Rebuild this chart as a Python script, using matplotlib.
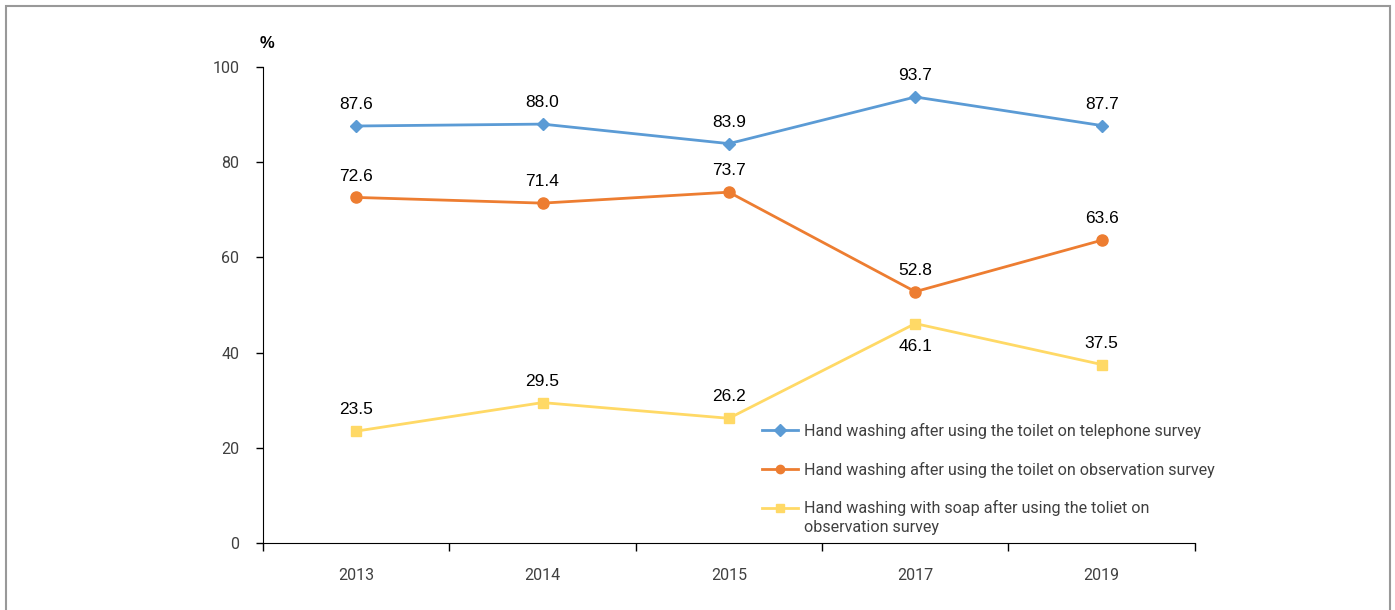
import matplotlib.pyplot as plt
from matplotlib.patches import Rectangle
import numpy as np

# Survey years and hand washing rates (%)
years = ["2013", "2014", "2015", "2017", "2019"]
telephone = [87.6, 88.0, 83.9, 93.7, 87.7]
observation = [72.6, 71.4, 73.7, 52.8, 63.6]
soap = [23.5, 29.5, 26.2, 46.1, 37.5]

series_names = [
    "Hand washing after using the toilet on telephone survey",
    "Hand washing after using the toilet on observation survey",
    "Hand washing with soap after using the toliet on",
]
soap_name_tail = "observation survey"

plt.rcParams['font.family'] = ['Liberation Sans', 'DejaVu Sans']

fig = plt.figure(figsize=(13.95, 6.10), dpi=100)
ax = fig.add_axes([0.1885, 0.1098, 0.668, 0.7804])

x = np.arange(len(years))
ax.plot(x, telephone, color="#5B9BD5", lw=2, marker="D", ms=6, label=series_names[0])
ax.plot(x, observation, color="#ED7D31", lw=2, marker="o", ms=8, label=series_names[1])
ax.plot(x, soap, color="#FFD966", lw=2, marker="s", ms=7, label=series_names[2])

# value labels
def label_points(vals, below=()):
    for i, (xi, v) in enumerate(zip(x, vals)):
        if i in below:
            ax.annotate(f"{v:.1f}", (xi, v), xytext=(0, -11), textcoords="offset points",
                        ha="center", va="top", fontsize=12.5)
        else:
            ax.annotate(f"{v:.1f}", (xi, v), xytext=(0, 10), textcoords="offset points",
                        ha="center", va="bottom", fontsize=12.5)

label_points(telephone)
label_points(observation)
label_points(soap, below=(3,))

ax.set_xlim(-0.5, len(years) - 0.5)
ax.set_ylim(0, 100)
ax.set_yticks(range(0, 101, 20))
ax.set_xticks(x)
ax.set_xticklabels(years)
ax.set_xticks(np.arange(-0.5, len(years)), minor=True)
ax.tick_params(axis="x", which="major", length=0, pad=18, labelsize=11.5, labelcolor="#404040")
ax.tick_params(axis="x", which="minor", length=6, width=1, direction="out")
ax.tick_params(axis="y", length=5, width=1, direction="out", pad=12, labelsize=11.5, labelcolor="#404040")
for lab in ax.get_xticklabels() + ax.get_yticklabels():
    lab.set_family(['Roboto', 'DejaVu Sans'])

ax.spines["top"].set_visible(False)
ax.spines["right"].set_visible(False)

ax.text(0.004, 1.05, "%", transform=ax.transAxes, ha="center", va="center",
        fontsize=12, fontweight="bold")

leg = ax.legend(loc="upper left", bbox_to_anchor=(0.536, 0.252), frameon=False,
                handlelength=2.2, handletextpad=0.35, labelspacing=1.4,
                borderaxespad=0, borderpad=0,
                prop={"family": ['Roboto', 'DejaVu Sans'], "size": 11.6})
for h in leg.legend_handles:
    h.set_markersize(6)
for t in leg.get_texts():
    t.set_color("#404040")

# second line of the wrapped soap label, under the legend text
fig.canvas.draw()
bb = leg.get_texts()[2].get_window_extent()
fig.text(bb.x0, bb.y0 - 4, soap_name_tail, transform=None, ha="left", va="top",
         color="#404040", family=['Roboto', 'DejaVu Sans'], fontsize=11.6)

# outer frame
fig.patches.append(Rectangle((6, -20), 1384, 624, transform=None, fill=False,
                             edgecolor="#999999", lw=1.5))

fig.savefig("out.png", dpi=100)
